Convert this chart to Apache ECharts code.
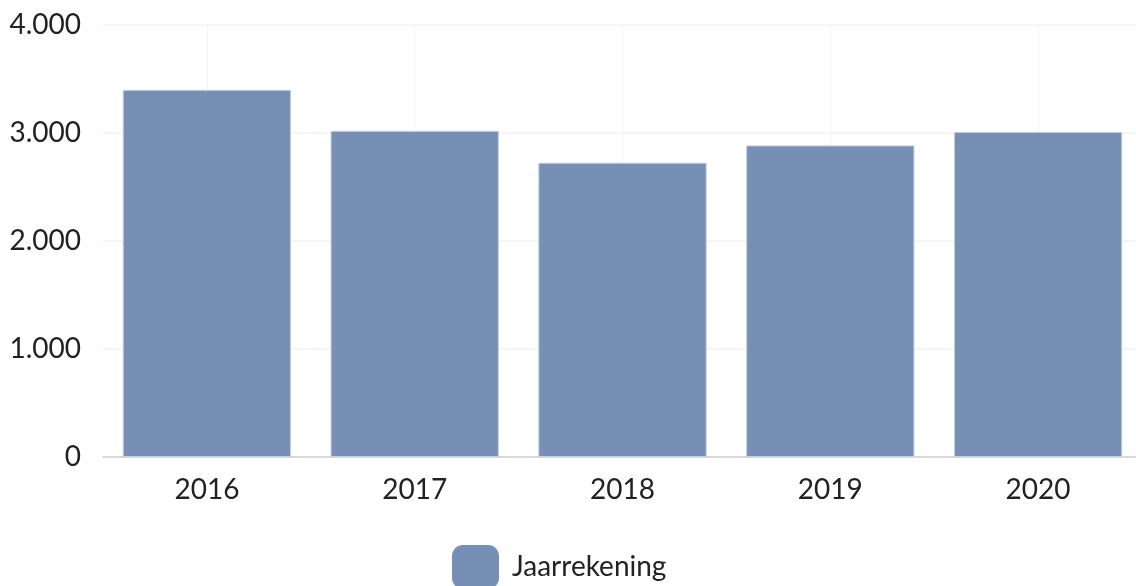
<!DOCTYPE html>
<html>
<head>
<meta charset="utf-8">
<script src="https://cdn.jsdelivr.net/npm/echarts@6/dist/echarts.min.js"></script>
<style>
  html, body { margin: 0; padding: 0; background: #fff; }
  #chart { width: 1136px; height: 586px; }
</style>
</head>
<body>
<div id="chart"></div>
<script>
// data
const years = ['2016', '2017', '2018', '2019', '2020'];
const jaarrekening = [3400, 3020, 2725, 2885, 3010];
const seriesName = 'Jaarrekening';

// 4000 -> "4.000"
function nlFormat(v) {
  return String(v).replace(/\B(?=(\d{3})+(?!\d))/g, '.');
}

const chart = echarts.init(document.getElementById('chart'));
const font = 'Lato, "Noto Sans", sans-serif';

chart.setOption({
  animation: false,
  textStyle: { fontFamily: font },
  grid: {
    top: 25,
    left: 103,
    width: 1039,
    height: 432,
    containLabel: false,
    outerBoundsMode: 'none'
  },
  legend: {
    data: [seriesName],
    left: 447,
    top: 540,
    icon: 'roundRect',
    itemWidth: 47,
    itemHeight: 44,
    itemStyle: { borderWidth: 0 },
    textStyle: { fontSize: 28, color: '#222', fontFamily: font, padding: [0, 0, 0, 8] }
  },
  xAxis: {
    type: 'category',
    data: years,
    axisLine: { lineStyle: { color: '#cfcfcf', width: 1.5 } },
    axisTick: { show: false },
    axisLabel: { color: '#222', fontSize: 28, margin: 19, fontFamily: font },
    splitLine: {
      show: true,
      alignWithLabel: true,
      lineStyle: { color: '#f4f4f4', width: 1 }
    }
  },
  yAxis: {
    type: 'value',
    min: 0,
    max: 4000,
    interval: 1000,
    axisLine: { show: false },
    axisTick: { show: false },
    axisLabel: {
      color: '#222',
      fontSize: 28,
      margin: 22,
      fontFamily: font,
      formatter: nlFormat
    },
    splitLine: { lineStyle: { color: '#f2f2f2', width: 1.5 } }
  },
  series: [
    {
      name: seriesName,
      type: 'bar',
      data: jaarrekening,
      barCategoryGap: '19%',
      itemStyle: {
        color: '#778fb4',
        borderColor: '#c3cfe2',
        borderWidth: 1
      }
    }
  ]
});
</script>
</body>
</html>
